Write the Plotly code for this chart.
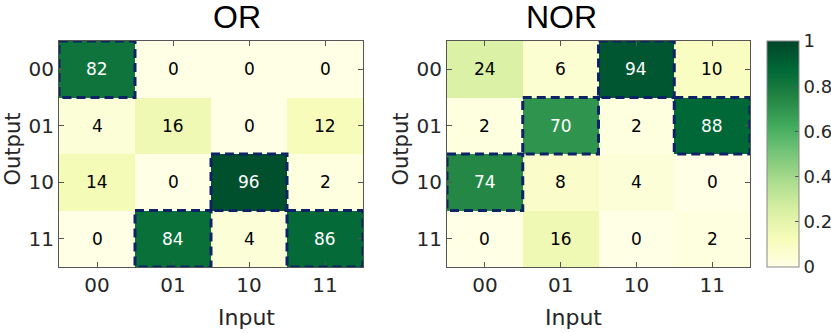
import plotly.graph_objects as go
from plotly.subplots import make_subplots

# ── data ─────────────────────────────────────
states = ["00", "01", "10", "11"]

# rows = Output (00..11), columns = Input (00..11), in percent
or_counts = [
    [82, 0, 0, 0],
    [4, 16, 0, 12],
    [14, 0, 96, 2],
    [0, 84, 4, 86],
]
nor_counts = [
    [24, 6, 94, 10],
    [2, 70, 2, 88],
    [74, 8, 4, 0],
    [0, 16, 0, 2],
]

# expected (input, output) pairs, drawn as dashed boxes
or_truth = [("00", "00"), ("10", "10"), ("01", "11"), ("11", "11")]
nor_truth = [("10", "00"), ("01", "01"), ("11", "01"), ("00", "10")]

YLGN = [
    [0.0, "rgb(255,255,229)"], [0.125, "rgb(247,252,185)"],
    [0.25, "rgb(217,240,163)"], [0.375, "rgb(173,221,142)"],
    [0.5, "rgb(120,198,121)"], [0.625, "rgb(65,171,93)"],
    [0.75, "rgb(35,132,67)"], [0.875, "rgb(0,104,55)"],
    [1.0, "rgb(0,69,41)"],
]
TXT = "#262626"
FONT = "DejaVu Sans"
W, H = 831, 333

fig = make_subplots(rows=1, cols=2)
idx = list(range(len(states)))

panels = [("OR", or_counts, or_truth), ("NOR", nor_counts, nor_truth)]
for i, (name, counts, truth) in enumerate(panels, start=1):
    z = [[v / 100 for v in row] for row in counts]
    fig.add_trace(go.Heatmap(
        z=z, x=idx, y=idx, zmin=0, zmax=1, colorscale=YLGN,
        showscale=(i == 2), hoverinfo="skip",
        colorbar=dict(
            x=767 / W, xanchor="left", xpad=0, y=0.5, ypad=0,
            len=1, lenmode="fraction",
            thickness=32, outlinecolor="#888", outlinewidth=1,
            tickvals=[0, 0.2, 0.4, 0.6, 0.8, 1], ticktext=["0", "0.2", "0.4", "0.6", "0.8", "1"],
            ticks="inside", ticklen=4, tickcolor="#555",
            tickfont=dict(family=FONT, size=18, color=TXT),
        ),
    ), row=1, col=i)

    xa = "x" if i == 1 else "x2"
    ya = "y" if i == 1 else "y2"
    for r, row in enumerate(counts):
        for c, v in enumerate(row):
            fig.add_annotation(
                x=c, y=r, xref=xa, yref=ya, text=str(v),
                showarrow=False,
                font=dict(family=FONT, size=17, color="white" if v >= 50 else "black"),
            )
    for inp, out in truth:
        cx = states.index(inp)
        cy = states.index(out)
        fig.add_shape(
            type="rect", xref=xa, yref=ya,
            x0=cx - 0.5, x1=cx + 0.5, y0=cy - 0.5, y1=cy + 0.5,
            line=dict(color="#0d2366", width=3, dash="9px,5px"), layer="above",
        )

    dom = [59 / W, 363 / W] if i == 1 else [447 / W, 750 / W]
    mid = (dom[0] + dom[1]) / 2
    # panel title
    fig.add_annotation(
        x=mid, y=1.0, xref="paper", yref="paper",
        yshift=24, yanchor="middle", text=name, showarrow=False,
        font=dict(family="Liberation Sans", size=32, color="black"),
    )
    # axis titles
    fig.add_annotation(
        x=mid + 5 / W, y=0, xref="paper", yref="paper",
        yshift=-50, yanchor="middle", text="Input", showarrow=False,
        font=dict(family=FONT, size=22, color=TXT),
    )
    fig.add_annotation(
        x=dom[0] - 46 / W, y=0.52, xref="paper", yref="paper",
        xanchor="center", yanchor="middle", textangle=-90, text="Output", showarrow=False,
        font=dict(family=FONT, size=21, color=TXT),
    )

    axis_common = dict(
        tickvals=idx, ticktext=states, tickangle=0,
        range=[-0.5, 3.5],
        showline=True, mirror="ticks", linecolor="#555", linewidth=1,
        ticks="inside", ticklen=5, tickcolor="#555",
        tickfont=dict(family=FONT, size=20, color=TXT),
        showgrid=False, zeroline=False, automargin=False,
    )
    fig.update_xaxes(domain=dom, **axis_common, row=1, col=i)
    axis_common["range"] = [3.5, -0.5]
    fig.update_yaxes(**axis_common, row=1, col=i)

fig.update_layout(
    width=W, height=H,
    margin=dict(l=0, r=0, t=41, b=66, autoexpand=False),
    paper_bgcolor="white", plot_bgcolor="white",
    showlegend=False,
)

# the page's default body margin would push the chart off the window
fig.write_html(
    "out.html",
    config={"displayModeBar": False},
    post_script="document.body.style.margin = '0';",
)
